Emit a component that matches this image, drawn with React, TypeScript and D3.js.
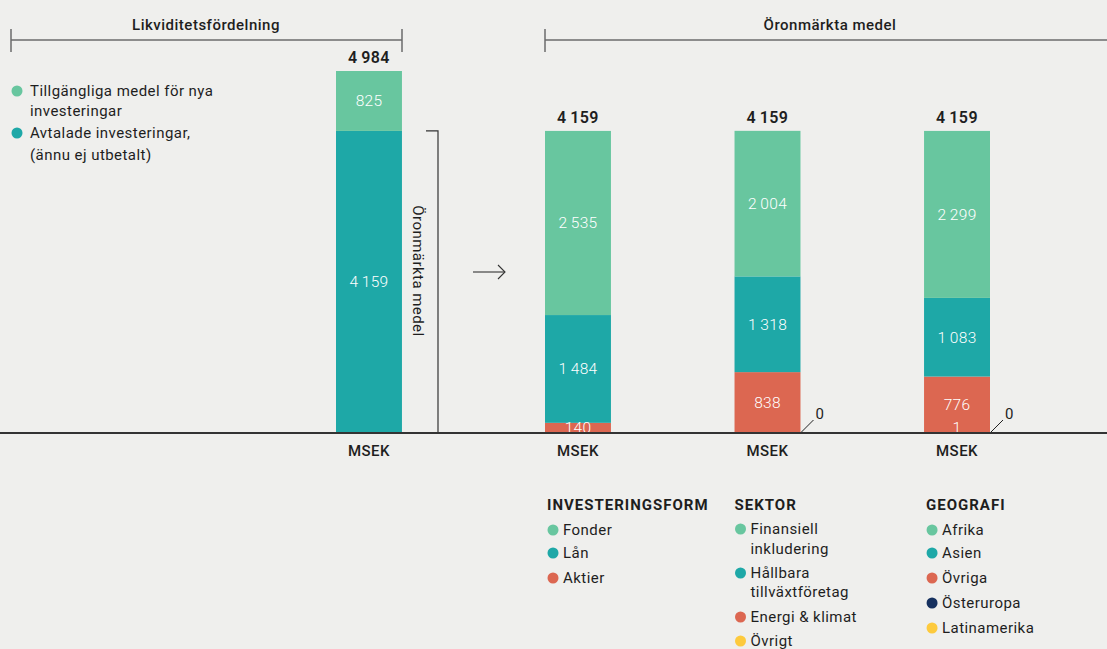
import React from "react";
import * as d3 from "d3";

const COLORS = {
  green: "#68c69f",
  teal: "#1ea8a7",
  red: "#dc6751",
  navy: "#16315f",
  yellow: "#fdca3d",
};

const liquidityLabels = ["Tillgängliga medel för nya investeringar", "Avtalade investeringar, (ännu ej utbetalt)"];
const liquidityValues = [825, 4159];
const liquidityTotal = 4984;

const groups = ["INVESTERINGSFORM", "SEKTOR", "GEOGRAFI"];
const groupTotals = [4159, 4159, 4159];

const invCategories = ["Fonder", "Lån", "Aktier"];
const invValues = [2535, 1484, 140];

const sekCategories = ["Finansiell inkludering", "Hållbara tillväxtföretag", "Energi & klimat", "Övrigt"];
const sekValues = [2004, 1318, 838, 0];

const geoCategories = ["Afrika", "Asien", "Övriga", "Österuropa", "Latinamerika"];
const geoValues = [2299, 1083, 776, 1, 0];

const invColors = [COLORS.green, COLORS.teal, COLORS.red];
const sekColors = [COLORS.green, COLORS.teal, COLORS.red, COLORS.yellow];
const geoColors = [COLORS.green, COLORS.teal, COLORS.red, COLORS.navy, COLORS.yellow];

const W = 1107;
const H = 649;
const BASE = 433;
const FONT = "Roboto, 'Open Sans', sans-serif";
const TXT = "#1e1e1e";
const FS = 15;
const LS = 0.45;

type Seg = { value: number; color: string; y0: number; y1: number };

function stackSegments(values: number[], colors: string[]): Seg[] {
  const out: Seg[] = [];
  let acc = 0;
  for (let i = values.length - 1; i >= 0; i--) {
    out.push({ value: values[i], color: colors[i], y0: acc, y1: acc + values[i] });
    acc += values[i];
  }
  return out;
}

export default function App() {
  const y = d3.scaleLinear().domain([0, liquidityTotal]).range([BASE, 71]);
  const xRight = d3.scaleBand<string>().domain(groups).range([545, 990]).paddingInner(0.652).paddingOuter(0);
  const bw = xRight.bandwidth();
  const leftX = 336;

  const leftSegs = stackSegments(liquidityValues, [COLORS.green, COLORS.teal]);
  const rightData = [
    { key: groups[0], segs: stackSegments(invValues, invColors), total: groupTotals[0], zero: false },
    { key: groups[1], segs: stackSegments(sekValues, sekColors), total: groupTotals[1], zero: true },
    { key: groups[2], segs: stackSegments(geoValues, geoColors), total: groupTotals[2], zero: true },
  ];

  const fmt = (v: number) => d3.format(",")(v).replace(/,/g, "\u2009");

  const renderBar = (x: number, segs: Seg[], total: number, key: string) => {
    const visible = segs.filter((s) => s.value > 0);
    return (
      <g key={key}>
        {visible.map((s, i) => (
          <rect key={i} x={x} width={bw} y={y(s.y1)} height={Math.max(0, y(s.y0) - y(s.y1))} fill={s.color} />
        ))}
        {visible.map((s, i) => {
          const h = y(s.y0) - y(s.y1);
          let cy = (y(s.y0) + y(s.y1)) / 2;
          if (h < 16) cy = BASE - 5;
          return (
            <text key={"t" + i} x={x + bw / 2} y={cy} dy="0.35em" textAnchor="middle" fill="#fff" fontSize={15.5} fontWeight={300} fontFamily={FONT} letterSpacing={0.3}>
              {fmt(s.value)}
            </text>
          );
        })}
        <text x={x + bw / 2} y={y(total) - 8} textAnchor="middle" fill={TXT} fontSize={16} fontWeight={600} fontFamily={FONT} letterSpacing={0.4}>
          {fmt(total)}
        </text>
        <text x={x + bw / 2} y={BASE + 23} textAnchor="middle" fill={TXT} fontSize={FS} fontWeight={500} fontFamily={FONT} letterSpacing={0.5}>
          MSEK
        </text>
      </g>
    );
  };

  const legendBlock = (title: string, cats: string[], colors: string[], x: number, rows: number[][]) => (
    <g key={title}>
      <text x={x} y={510} fill={TXT} fontSize={FS} fontWeight={700} fontFamily={FONT} letterSpacing={1.0}>
        {title}
      </text>
      {cats.map((c, i) => {
        const ys = rows[i];
        const words = c.split(" ");
        const lines = ys.length > 1 ? [words[0], words.slice(1).join(" ")] : [c];
        return (
          <g key={c}>
            <circle cx={x + 6} cy={ys[0]} r={5.5} fill={colors[i]} />
            {lines.map((l, j) => (
              <text key={j} x={x + 16} y={ys[j]} dy="0.35em" fill={TXT} fontSize={FS} fontFamily={FONT} letterSpacing={LS}>
                {l}
              </text>
            ))}
          </g>
        );
      })}
    </g>
  );

  return (
    <svg width={W} height={H} style={{ position: "absolute", left: 0, top: 0, background: "#efefed" }}>
      <rect width={W} height={H} fill="#efefed" />
      <g stroke="#6b6b6b" strokeWidth={1.5}>
        <line x1={11} x2={402} y1={40} y2={40} />
        <line x1={11} x2={11} y1={29} y2={52} />
        <line x1={402} x2={402} y1={29} y2={52} />
        <line x1={545} x2={W} y1={40} y2={40} />
        <line x1={545} x2={545} y1={29} y2={52} />
      </g>
      <text x={206} y={30} textAnchor="middle" fill={TXT} fontSize={FS} fontWeight={500} fontFamily={FONT} letterSpacing={0.5}>
        Likviditetsfördelning
      </text>
      <text x={830} y={30} textAnchor="middle" fill={TXT} fontSize={FS} fontWeight={500} fontFamily={FONT} letterSpacing={0.5}>
        Öronmärkta medel
      </text>

      <g fontFamily={FONT} fontSize={FS} fill={TXT} letterSpacing={LS}>
        <circle cx={17} cy={91} r={5.5} fill={COLORS.green} />
        <text x={30} y={91} dy="0.35em">Tillgängliga medel för nya</text>
        <text x={30} y={111} dy="0.35em">investeringar</text>
        <circle cx={17} cy={133} r={5.5} fill={COLORS.teal} />
        <text x={30} y={133} dy="0.35em">Avtalade investeringar,</text>
        <text x={30} y={155} dy="0.35em">(ännu ej utbetalt)</text>
      </g>

      {renderBar(leftX, leftSegs, liquidityTotal, "left")}

      <g stroke="#333" strokeWidth={1.2} fill="none">
        <polyline points={`426,${y(liquidityValues[1])} 438,${y(liquidityValues[1])} 438,${BASE}`} />
      </g>
      <text
        transform={`translate(418, ${(y(liquidityValues[1]) + BASE) / 2 - 11}) rotate(90)`}
        textAnchor="middle"
        dy="0.35em"
        fill={TXT}
        fontSize={FS}
        fontFamily={FONT}
        letterSpacing={LS}
      >
        Öronmärkta medel
      </text>

      <g stroke="#333" strokeWidth={1.1} fill="none">
        <line x1={473} x2={505} y1={272} y2={272} />
        <polyline points="498,265 505,272 498,279" />
      </g>

      {rightData.map((d) => renderBar(xRight(d.key)!, d.segs, d.total, d.key))}

      {rightData
        .filter((d) => d.zero)
        .map((d) => {
          const x0 = xRight(d.key)! + bw;
          return (
            <g key={"z" + d.key}>
              <line x1={x0} y1={BASE} x2={x0 + 13} y2={BASE - 13} stroke="#222" strokeWidth={1} />
              <text x={x0 + 15} y={BASE - 19} dy="0.35em" fill={TXT} fontSize={FS} fontFamily={FONT}>
                0
              </text>
            </g>
          );
        })}

      <line x1={0} x2={W} y1={BASE} y2={BASE} stroke="#333" strokeWidth={2} />

      {legendBlock(groups[0], invCategories, invColors, xRight(groups[0])! + 2, [[530], [553], [578]])}
      {legendBlock(groups[1], sekCategories, sekColors, xRight(groups[1])!, [[529, 549], [573, 592], [617], [641]])}
      {legendBlock(groups[2], geoCategories, geoColors, xRight(groups[2])! + 2, [[530], [553], [578], [603], [628]])}
    </svg>
  );
}
